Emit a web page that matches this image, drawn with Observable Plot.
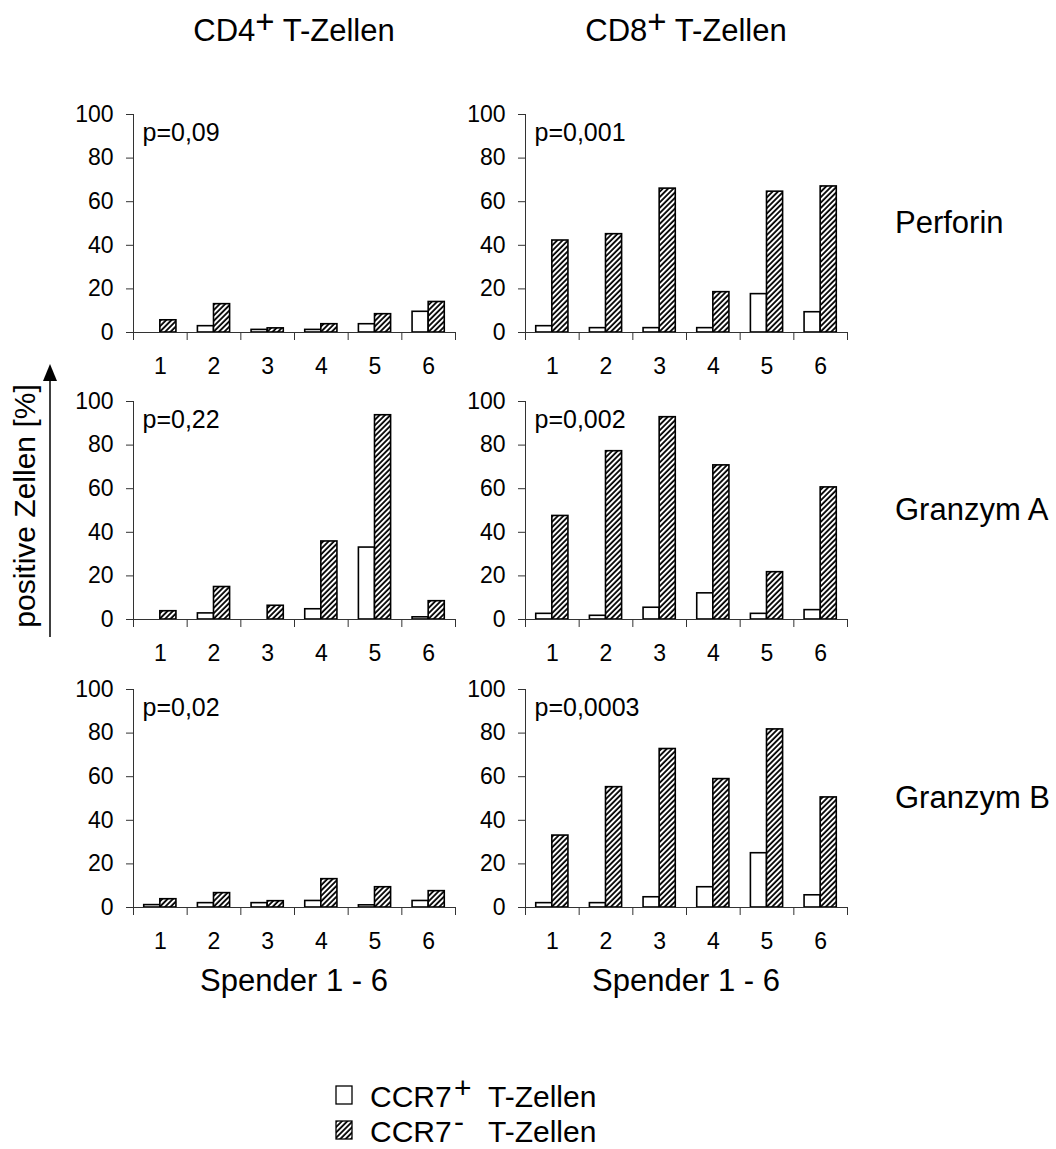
<!DOCTYPE html>
<html>
<head>
<meta charset="utf-8">
<script src="https://cdn.jsdelivr.net/npm/d3@7"></script>
<script src="https://cdn.jsdelivr.net/npm/@observablehq/plot@0.6"></script>
<style>
  html, body { margin: 0; padding: 0; background: white; }
  #root { position: relative; width: 1056px; height: 1149px; background: white; overflow: hidden;
          font-family: "Liberation Sans", Arial, sans-serif; }
  .panel { position: absolute; }
  #overlay { position: absolute; left: 0; top: 0; pointer-events: none; }
</style>
</head>
<body>
<div id="root"></div>
<script>
// ---------------- data ----------------
const donors = [1, 2, 3, 4, 5, 6];
const yTicks = [0, 20, 40, 60, 80, 100];
const cellTypes = ["CD4", "CD8"];
const proteins = ["Perforin", "Granzym A", "Granzym B"];
const seriesNames = ["CCR7", "CCR7"];
const seriesSigns = ["+", "-"];
const seriesSuffix = "T-Zellen";
const xTitle = "Spender 1 - 6";
const yTitle = "positive Zellen [%]";

// CCR7+ (white) and CCR7- (hatched) values, % positive cells, donors 1..6
const perforinCD4Pos = [0, 2.9, 1.2, 1.2, 3.8, 9.5];
const perforinCD4Neg = [5.6, 13.0, 1.9, 3.8, 8.4, 14.0];
const perforinCD8Pos = [2.9, 2.0, 2.0, 2.0, 17.6, 9.3];
const perforinCD8Neg = [42.2, 45.1, 66.0, 18.5, 64.6, 67.0];
const granzymACD4Pos = [0, 2.8, 0, 4.7, 33.0, 1.0];
const granzymACD4Neg = [3.8, 14.9, 6.3, 35.8, 93.7, 8.4];
const granzymACD8Pos = [2.6, 1.7, 5.4, 12.0, 2.6, 4.3];
const granzymACD8Neg = [47.5, 77.2, 92.8, 70.7, 21.7, 60.6];
const granzymBCD4Pos = [1.1, 2.0, 2.0, 3.0, 1.0, 3.0];
const granzymBCD4Neg = [3.8, 6.6, 2.9, 13.0, 9.3, 7.5];
const granzymBCD8Pos = [2.0, 2.0, 4.7, 9.3, 24.9, 5.6];
const granzymBCD8Neg = [33.0, 55.2, 72.7, 58.9, 81.7, 50.5];

const pValuesCD4 = ["p=0,09", "p=0,22", "p=0,02"];
const pValuesCD8 = ["p=0,001", "p=0,002", "p=0,0003"];

// ---------------- layout / style ----------------
const FONT = '"Liberation Sans", Arial, sans-serif';
const axisColor = "#333";
const barHalf = 0.3;               // bar width in donor units
const innerW = 322, innerH = 218;
const mL = 70, mR = 10, mT = 20, mB = 52;
const colAxisX = [133, 525];       // left edge of plot frame per column
const rowTopY = [114, 401, 689];   // y of value 100 per row
const bigFont = 31;
const legendFont = 30;

const panelData = [
  [[perforinCD4Pos, perforinCD4Neg], [perforinCD8Pos, perforinCD8Neg]],
  [[granzymACD4Pos, granzymACD4Neg], [granzymACD8Pos, granzymACD8Neg]],
  [[granzymBCD4Pos, granzymBCD4Neg], [granzymBCD8Pos, granzymBCD8Neg]]
];
const pValues = [pValuesCD4, pValuesCD8];

const root = document.getElementById("root");
const boundaries = donors.map(d => d - 0.5).concat([donors[donors.length - 1] + 0.5]);

function hatchDefs(id) {
  return () => {
    const defs = d3.create("svg:defs");
    const pat = defs.append("pattern")
      .attr("id", id).attr("patternUnits", "userSpaceOnUse")
      .attr("width", 3.8).attr("height", 3.8)
      .attr("patternTransform", "rotate(45)");
    pat.append("rect").attr("width", 3.8).attr("height", 3.8).attr("fill", "white");
    pat.append("line").attr("x1", 1).attr("y1", 0).attr("x2", 1).attr("y2", 3.8)
      .attr("stroke", "black").attr("stroke-width", 1.8);
    return defs.node();
  };
}

function makePanel(pos, neg, pText, id) {
  const posRows = donors.map((d, i) => ({donor: d, value: pos[i]})).filter(d => d.value > 0);
  const negRows = donors.map((d, i) => ({donor: d, value: neg[i]})).filter(d => d.value > 0);
  return Plot.plot({
    width: mL + innerW + mR,
    height: mT + innerH + mB,
    marginLeft: mL, marginRight: mR, marginTop: mT, marginBottom: mB,
    x: {domain: [donors[0] - 0.5, donors[donors.length - 1] + 0.5], label: null},
    y: {domain: [0, 100], label: null},
    style: {fontFamily: FONT, fontSize: "23px", color: "black", background: "transparent", maxWidth: "none", overflow: "visible"},
    marks: [
      hatchDefs(id),
      Plot.rectY(posRows, {x1: d => d.donor - barHalf, x2: d => d.donor, y1: 0, y2: "value",
        fill: "white", stroke: "black", strokeWidth: 1.6}),
      Plot.rectY(negRows, {x1: d => d.donor, x2: d => d.donor + barHalf, y1: 0, y2: "value",
        fill: `url(#${id})`, stroke: "black", strokeWidth: 1.6}),
      Plot.ruleX([donors[0] - 0.5], {stroke: axisColor, strokeWidth: 1}),
      Plot.ruleY([0], {stroke: axisColor, strokeWidth: 1}),
      Plot.axisY({ticks: yTicks, tickSize: 7, tickPadding: 13, stroke: axisColor, label: null, fontSize: 23}),
      Plot.axisX({ticks: boundaries, tickSize: 8, tickFormat: () => "", stroke: axisColor, label: null}),
      Plot.axisX({ticks: donors, tickSize: 0, tickPadding: 25, tickFormat: d => String(d), label: null, fontSize: 23}),
      Plot.text([pText], {frameAnchor: "top-left", textAnchor: "start", lineAnchor: "top", dx: 9, dy: 9, fontSize: 25})
    ]
  });
}

for (let r = 0; r < proteins.length; r++) {
  for (let c = 0; c < cellTypes.length; c++) {
    const [pos, neg] = panelData[r][c];
    const chart = makePanel(pos, neg, pValues[c][r], `hatch-${r}-${c}`);
    const wrap = document.createElement("div");
    wrap.className = "panel";
    wrap.style.left = (colAxisX[c] - mL) + "px";
    wrap.style.top = (rowTopY[r] - mT) + "px";
    wrap.style.width = (mL + innerW + mR) + "px";
    wrap.style.height = (mT + innerH + mB) + "px";
    wrap.appendChild(chart);
    root.appendChild(wrap);
  }
}

// ---------------- overlay texts ----------------
const ov = d3.select(root).append("svg").attr("id", "overlay")
  .attr("width", 1056).attr("height", 1149)
  .attr("font-family", FONT).attr("fill", "black");

const colCenters = colAxisX.map(x => x + innerW / 2);

// column titles
cellTypes.forEach((ct, c) => {
  const t = ov.append("text").attr("x", colCenters[c]).attr("y", 41)
    .attr("text-anchor", "middle").attr("font-size", bigFont);
  t.append("tspan").text(ct);
  t.append("tspan").attr("dy", -8).attr("font-size", bigFont + 2).text("+");
  t.append("tspan").attr("dy", 8).text(" T-Zellen");
});

// row labels
proteins.forEach((p, r) => {
  ov.append("text").attr("x", 895).attr("y", rowTopY[r] + innerH / 2 + 10)
    .attr("font-size", bigFont).text(p);
});

// x titles
colCenters.forEach(cx => {
  ov.append("text").attr("x", cx).attr("y", 991).attr("text-anchor", "middle")
    .attr("font-size", bigFont).text(xTitle);
});

// y title + arrow
ov.append("text").attr("transform", "translate(35,506) rotate(-90)")
  .attr("text-anchor", "middle").attr("font-size", 30).text(yTitle);
ov.append("line").attr("x1", 50).attr("x2", 50).attr("y1", 637).attr("y2", 376)
  .attr("stroke", "black").attr("stroke-width", 1.5);
ov.append("path").attr("d", "M50,364 L43,381 L57,381 Z").attr("fill", "black");

// legend
ov.append("defs").html('<pattern id="hatch-legend" patternUnits="userSpaceOnUse" width="3.8" height="3.8" patternTransform="rotate(45)"><rect width="3.8" height="3.8" fill="white"/><line x1="1" y1="0" x2="1" y2="3.8" stroke="black" stroke-width="1.8"/></pattern>');
const legendRows = [
  {fill: "white", y: 1107, sy: 9},
  {fill: "url(#hatch-legend)", y: 1142, sy: 10}
];
legendRows.forEach((lr, i) => {
  ov.append("rect").attr("x", 336).attr("y", lr.y - 21).attr("width", 16).attr("height", 18)
    .attr("fill", lr.fill).attr("stroke", "black").attr("stroke-width", 1.3);
  ov.append("text").attr("x", 370).attr("y", lr.y).attr("font-size", legendFont).text(seriesNames[i]);
  ov.append("text").attr("x", 454).attr("y", lr.y - lr.sy).attr("font-size", legendFont).text(seriesSigns[i]);
  ov.append("text").attr("x", 488).attr("y", lr.y).attr("font-size", legendFont).text(seriesSuffix);
});
</script>
</body>
</html>
